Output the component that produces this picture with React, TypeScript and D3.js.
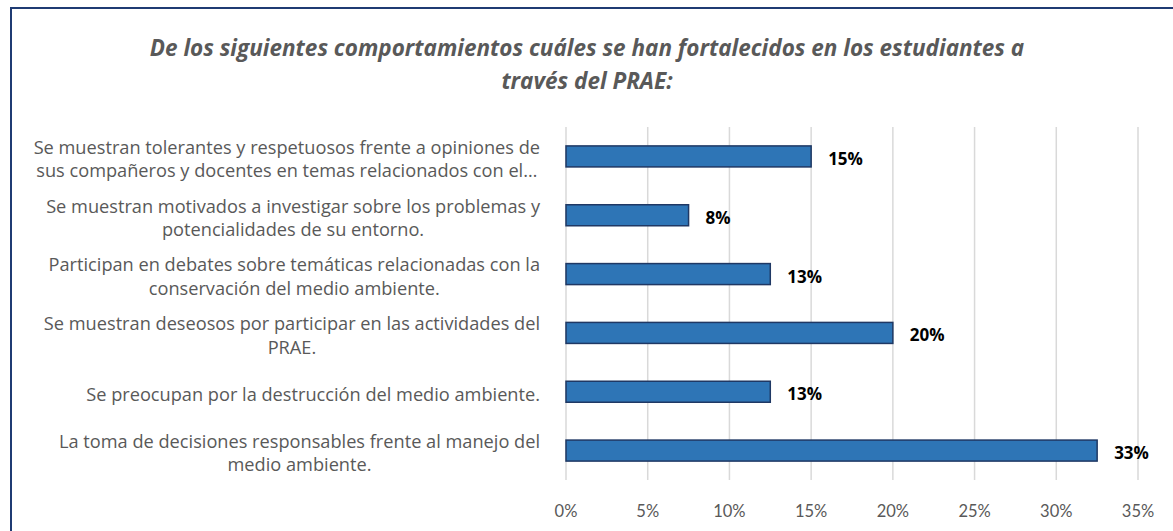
import React from "react";
import * as d3 from "d3";

const categories: string[][] = [
  ["Se muestran tolerantes y respetuosos frente a opiniones de", "sus compañeros y docentes en temas relacionados con el…"],
  ["Se muestran motivados a investigar sobre los problemas y", "potencialidades de su entorno."],
  ["Participan en debates sobre temáticas relacionadas con la", "conservación del medio ambiente."],
  ["Se muestran deseosos por participar en las actividades del", "PRAE."],
  ["Se preocupan por la destrucción del medio ambiente."],
  ["La toma de decisiones responsables frente al manejo del", "medio ambiente."],
];
const values: number[] = [0.15, 0.075, 0.125, 0.2, 0.125, 0.325];
const valueLabels: string[] = ["15%", "8%", "13%", "20%", "13%", "33%"];
const ticks: number[] = [0, 0.05, 0.1, 0.15, 0.2, 0.25, 0.3, 0.35];
const titleLines: string[] = [
  "De los siguientes comportamientos cuáles se han fortalecidos en los estudiantes a",
  "través del PRAE:",
];

const W = 1173;
const H = 531;
const FONT = "'Open Sans', Lato, sans-serif";
const FONT2 = "Lato, 'Open Sans', sans-serif";

export default function App() {
  const x = d3.scaleLinear().domain([0, 0.35]).range([566, 1138]);
  const idx = categories.map((_, i) => String(i));
  const y = d3.scaleBand().domain(idx).range([127, 480]).paddingInner(0.643).paddingOuter(0.3215);
  const labelRight = 540;
  const lineH = 23.5;

  return (
    <svg width={W} height={H} style={{ position: "absolute", left: 0, top: 0, background: "#fff" }}>
      <rect x={11} y={8} width={W + 40} height={H + 40} fill="#fff" stroke="#1F3B73" strokeWidth={2} />
      <g fontFamily={FONT} fontStyle="italic" fontWeight="bold" fontSize={22.5} fill="#595959" textAnchor="middle">
        {titleLines.map((t, i) => (
          <text key={i} x={587} y={47 + i * 33} dominantBaseline="central">{t}</text>
        ))}
      </g>
      <g stroke="#D9D9D9" strokeWidth={1.5}>
        {ticks.map((t) => (
          <line key={t} x1={x(t)} x2={x(t)} y1={127} y2={480} />
        ))}
      </g>
      <g fontFamily={FONT2} fontSize={16.5} fill="#595959" textAnchor="middle">
        {ticks.map((t) => (
          <text key={t} x={x(t)} y={511} dominantBaseline="central">{d3.format(".0%")(t)}</text>
        ))}
      </g>
      {values.map((v, i) => {
        const y0 = y(String(i))!;
        return (
          <g key={i}>
            <rect x={x(0)} y={y0} width={x(v) - x(0)} height={y.bandwidth()} fill="#2E75B6" stroke="#1F3864" strokeWidth={1.5} />
            <text x={x(v) + 17} y={y0 + y.bandwidth() / 2 + 2} dominantBaseline="central" fontFamily={FONT} fontWeight="bold" fontSize={17} fill="#000">
              {valueLabels[i]}
            </text>
          </g>
        );
      })}
      {categories.map((lines, i) => {
        const cy = y(String(i))! + y.bandwidth() / 2 + 2;
        return (
          <CategoryLabel key={i} lines={lines} cy={cy} right={labelRight} lineH={lineH} />
        );
      })}
    </svg>
  );
}

function CategoryLabel({ lines, cy, right, lineH }: { lines: string[]; cy: number; right: number; lineH: number }) {
  const ref = React.useRef<SVGGElement>(null);
  React.useLayoutEffect(() => {
    const g = ref.current;
    if (!g) return;
    const texts = Array.from(g.querySelectorAll("text")) as SVGTextElement[];
    const widths = texts.map((t) => t.getComputedTextLength());
    const maxW = Math.max(...widths);
    const center = right - maxW / 2;
    texts.forEach((t) => t.setAttribute("x", String(center)));
  }, [lines, right]);
  const n = lines.length;
  return (
    <g ref={ref} fontFamily={FONT} fontSize={18.2} fill="#595959" textAnchor="middle">
      {lines.map((l, j) => (
        <text key={j} x={right} y={cy + (j - (n - 1) / 2) * lineH} dominantBaseline="central">{l}</text>
      ))}
    </g>
  );
}
